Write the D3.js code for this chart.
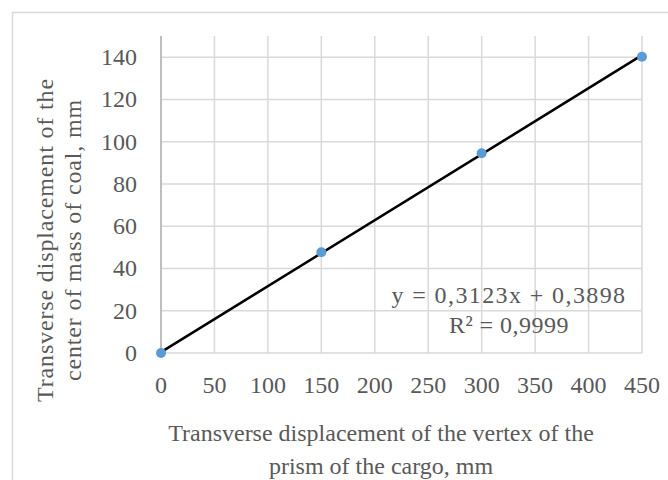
<!DOCTYPE html>
<html>
<head>
<meta charset="utf-8">
<script src="https://cdn.jsdelivr.net/npm/d3@7"></script>
<style>
  html, body { margin: 0; padding: 0; background: #fff; overflow: hidden; }
  text { font-family: "Liberation Serif", "Times New Roman", serif; fill: #595959; }
</style>
</head>
<body>
<div class="svg-container"></div>
<script>
const xValues = [0, 150, 300, 450]
const yValues = [0, 47.7, 94.5, 140.2]
const xTicks = [0, 50, 100, 150, 200, 250, 300, 350, 400, 450]
const yTicks = [0, 20, 40, 60, 80, 100, 120, 140]
const slope = 0.3123
const intercept = 0.3898
const eqLabel = 'y = 0,3123x + 0,3898'
const r2Label = 'R² = 0,9999'
const xTitle = ['Transverse displacement  of the vertex of the', 'prism of the cargo,  mm']
const yTitle = ['Transverse displacement  of the', 'center of mass of coal, mm']

const svg = d3.select('.svg-container').append('svg')
  .attr('width', 668)
  .attr('height', 480);

// chart frame
svg.append('rect')
  .attr('x', 12.5).attr('y', 12.5)
  .attr('width', 700).attr('height', 500)
  .attr('fill', 'none')
  .attr('stroke', '#d9d9d9')
  .attr('stroke-width', 1.5);

const x = d3.scaleLinear().domain([0, 450]).range([161, 642]);
const y = d3.scaleLinear().domain([0, 150]).range([353, 36]);

// grid
svg.selectAll('.vgrid')
  .data(xTicks.slice(1))
  .enter().append('line')
  .attr('class', 'vgrid')
  .attr('x1', d => x(d)).attr('x2', d => x(d))
  .attr('y1', y(150)).attr('y2', y(0))
  .attr('stroke', '#d9d9d9').attr('stroke-width', 1.5);

svg.selectAll('.hgrid')
  .data(yTicks)
  .enter().append('line')
  .attr('class', 'hgrid')
  .attr('x1', x(0)).attr('x2', x(450))
  .attr('y1', d => y(d)).attr('y2', d => y(d))
  .attr('stroke', '#d9d9d9').attr('stroke-width', 1.5);

// y axis line
svg.append('line')
  .attr('x1', x(0)).attr('x2', x(0))
  .attr('y1', y(150)).attr('y2', y(0))
  .attr('stroke', '#bfbfbf').attr('stroke-width', 2);

// tick labels
svg.selectAll('.ylab')
  .data(yTicks)
  .enter().append('text')
  .attr('class', 'ylab')
  .attr('x', 137)
  .attr('y', d => y(d) + 8)
  .attr('text-anchor', 'end')
  .style('font-size', '24px')
  .text(d => d);

svg.selectAll('.xlab')
  .data(xTicks)
  .enter().append('text')
  .attr('class', 'xlab')
  .attr('x', d => x(d))
  .attr('y', 393)
  .attr('text-anchor', 'middle')
  .style('font-size', '24px')
  .text(d => d);

// trend line
svg.append('line')
  .attr('x1', x(0)).attr('y1', y(intercept))
  .attr('x2', x(450)).attr('y2', y(slope * 450 + intercept))
  .attr('stroke', '#000').attr('stroke-width', 2.5);

// points
svg.selectAll('.pt')
  .data(xValues.map((v, i) => [v, yValues[i]]))
  .enter().append('circle')
  .attr('class', 'pt')
  .attr('cx', d => x(d[0]))
  .attr('cy', d => y(d[1]))
  .attr('r', 5)
  .attr('fill', '#5b9bd5');

// equation
svg.append('text')
  .attr('x', 509).attr('y', 303)
  .attr('text-anchor', 'middle')
  .style('font-size', '24px')
  .style('letter-spacing', '1.4px')
  .text(eqLabel);
svg.append('text')
  .attr('x', 509).attr('y', 333)
  .attr('text-anchor', 'middle')
  .style('font-size', '24px')
  .style('letter-spacing', '0.5px')
  .text(r2Label);

// axis titles
svg.selectAll('.xtitle')
  .data(xTitle)
  .enter().append('text')
  .attr('class', 'xtitle')
  .attr('x', 381)
  .attr('y', (d, i) => 441 + i * 33)
  .attr('text-anchor', 'middle')
  .style('font-size', '24px')
  .text(d => d);

svg.selectAll('.ytitle')
  .data(yTitle)
  .enter().append('text')
  .attr('class', 'ytitle')
  .attr('transform', (d, i) => `translate(${53 + i * 28},${240}) rotate(-90)`)
  .attr('text-anchor', 'middle')
  .style('font-size', '24px')
  .style('letter-spacing', '0.85px')
  .text(d => d);
</script>
</body>
</html>
